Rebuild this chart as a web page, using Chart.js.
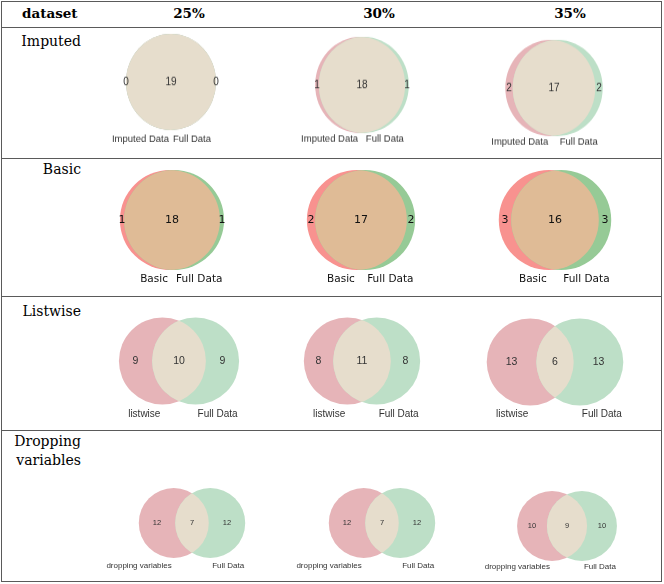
<!DOCTYPE html>
<html>
<head>
<meta charset="utf-8">
<script src="https://cdn.jsdelivr.net/npm/chart.js@4.4.1/dist/chart.umd.min.js"></script>
<style>
  body { margin: 0; background: #fff; }
  #page { position: relative; width: 664px; height: 584px; overflow: hidden; font-family: "DejaVu Serif", serif; color: #000; }
  .hl { position: absolute; left: 1px; width: 661px; height: 1px; background: #5a5a5a; }
  .vl { position: absolute; top: 1px; width: 1px; height: 581px; background: #5a5a5a; }
  .hd { position: absolute; font-weight: bold; font-size: 13.5px; line-height: 14px; white-space: nowrap; }
  .rl { position: absolute; right: 583px; text-align: right; font-size: 14px; line-height: 18.5px; white-space: nowrap; }
  canvas { position: absolute; }
</style>
</head>
<body>
<div id="page"></div>
<script>
// table text
const headerTitle = 'dataset';
const pctLabels = ['25%', '30%', '35%'];
const rowNames = ['Imputed', 'Basic', 'Listwise', 'Dropping<br>variables'];
const firstSetNames = ['Imputed Data', 'Basic', 'listwise', 'dropping variables'];
const secondSetName = 'Full Data';

// venn counts: [row][column]
const leftOnly  = [[0, 1, 2], [1, 2, 3], [9, 8, 13], [12, 12, 10]];
const shared    = [[19, 18, 17], [18, 17, 16], [10, 11, 6], [7, 7, 9]];
const rightOnly = [[0, 1, 2], [1, 2, 3], [9, 8, 13], [12, 12, 10]];

// layout of the picture (page pixels)
const colBox = [[88, 282], [282, 472], [472, 660]];
const rowBox = [[28, 158], [159, 296], [297, 430], [431, 581]];
const centers = [
    [[171, 82], [362, 85], [554, 88]],
    [[172, 220], [361, 220], [555, 220]],
    [[179, 361], [362, 361], [555, 362]],
    [[192, 523], [382, 523], [567, 526]]
];
const leftRadiusPx = [45, 50, 43.5, 35];
const rowStretch = [1.07, 1, 1, 1];   // first row of the source image is a bit taller than wide
const setLabelY = [[139, 139, 142], [279, 279, 279], [414, 414, 414], [566, 566, 567]];
const numSize = [10, 11, 10.5, 7.5];
const labSize = [9.5, 10.5, 10, 8];

const styles = {
    pastel: { a: '#e6b4b8', b: '#bddfc7', ab: '#e6ddcc', text: '#333', font: '"Liberation Sans", Arial, sans-serif' },
    strong: { a: '#f8928f', b: '#96ca96', ab: '#dfbb96', text: '#111', font: '"DejaVu Sans", sans-serif' }
};
const rowStyle = ['pastel', 'strong', 'pastel', 'pastel'];

const page = document.getElementById('page');

function addDiv(cls, css, html) {
    const d = document.createElement('div');
    d.className = cls;
    d.style.cssText = css;
    d.innerHTML = html;
    page.appendChild(d);
}

// grid
[1, 27, 158, 296, 430, 581].forEach(y => addDiv('hl', `top:${y}px`, ''));
[1, 661].forEach(x => addDiv('vl', `left:${x}px`, ''));

addDiv('hd', 'left:22px;top:6px', headerTitle);
const headCx = [189, 379, 570];
pctLabels.forEach((t, i) => addDiv('hd', `left:${headCx[i] - 40}px;width:80px;text-align:center;top:6px`, t));
const rowTop = [32, 160, 302, 432];
rowNames.forEach((t, i) => addDiv('rl', `top:${rowTop[i]}px`, t));

// area of the lens between two circles
function lensArea(r1, r2, d) {
    if (d >= r1 + r2) return 0;
    if (d <= Math.abs(r1 - r2)) return Math.PI * Math.min(r1, r2) ** 2;
    const a = r1 * r1 * Math.acos((d * d + r1 * r1 - r2 * r2) / (2 * d * r1));
    const b = r2 * r2 * Math.acos((d * d + r2 * r2 - r1 * r1) / (2 * d * r2));
    const c = 0.5 * Math.sqrt((-d + r1 + r2) * (d + r1 - r2) * (d - r1 + r2) * (d + r1 + r2));
    return a + b - c;
}

function centreDistance(r1, r2, area) {
    let lo = Math.abs(r1 - r2), hi = r1 + r2;
    for (let k = 0; k < 60; k++) {
        const mid = (lo + hi) / 2;
        if (lensArea(r1, r2, mid) > area) lo = mid; else hi = mid;
    }
    return (lo + hi) / 2;
}

function pxRadius(chart, r) {
    const s = chart.scales.x;
    const v = Math.abs(s.getPixelForValue(r) - s.getPixelForValue(0));
    return isFinite(v) ? v : 0;
}

const vennPlugin = {
    id: 'venn',
    afterDatasetsDraw(chart, args, opts) {
        const ctx = chart.ctx;
        const A = chart.getDatasetMeta(0).data[0];
        const B = chart.getDatasetMeta(1).data[0];
        const ra = A.options.radius, rb = B.options.radius;

        // intersection region
        ctx.save();
        ctx.beginPath();
        ctx.arc(A.x, A.y, ra, 0, Math.PI * 2);
        ctx.clip();
        ctx.beginPath();
        ctx.arc(B.x, B.y, rb, 0, Math.PI * 2);
        ctx.fillStyle = opts.overlapColor;
        ctx.fill();
        ctx.restore();

        // region counts
        const aL = A.x - ra, aR = A.x + ra, bL = B.x - rb, bR = B.x + rb;
        ctx.save();
        ctx.fillStyle = opts.textColor;
        ctx.textAlign = 'center';
        ctx.textBaseline = 'middle';
        ctx.font = `${opts.numSize}px ${opts.family}`;
        ctx.fillText(String(opts.counts[0]), (aL + bL) / 2, A.y);
        ctx.fillText(String(opts.counts[1]), (bL + aR) / 2, A.y);
        ctx.fillText(String(opts.counts[2]), (aR + bR) / 2, A.y);

        // set names
        ctx.font = `${opts.labSize}px ${opts.family}`;
        ctx.textAlign = 'right';
        ctx.fillText(opts.names[0], A.x - 2, opts.labelY);
        ctx.textAlign = 'left';
        ctx.fillText(opts.names[1], B.x + 2, opts.labelY);
        ctx.restore();
    }
};

for (let r = 0; r < 4; r++) {
    for (let c = 0; c < 3; c++) {
        const st = styles[rowStyle[r]];
        const left = colBox[c][0], top = rowBox[r][0];
        const W = colBox[c][1] - colBox[c][0], H = rowBox[r][1] - rowBox[r][0];
        const k = rowStretch[r];

        const sizeA = leftOnly[r][c] + shared[r][c];
        const sizeB = rightOnly[r][c] + shared[r][c];
        const rA = Math.sqrt(sizeA / Math.PI), rB = Math.sqrt(sizeB / Math.PI);
        const d = centreDistance(rA, rB, shared[r][c]);

        const unit = leftRadiusPx[r] / rA; // pixels per data unit
        const cx = centers[r][c][0] - left, cy = centers[r][c][1] - top;

        const cv = document.createElement('canvas');
        cv.width = W;
        cv.height = H;
        cv.style.left = left + 'px';
        cv.style.top = top + 'px';
        if (k !== 1) {
            cv.style.transformOrigin = `0 ${cy}px`;
            cv.style.transform = `scaleY(${k})`;
        }
        page.appendChild(cv);

        new Chart(cv, {
            type: 'scatter',
            data: {
                datasets: [
                    { data: [{ x: -d / 2, y: 0 }], pointBackgroundColor: st.a, pointBorderWidth: 0,
                      pointRadius: ctx => pxRadius(ctx.chart, rA), pointHoverRadius: ctx => pxRadius(ctx.chart, rA), order: 2 },
                    { data: [{ x: d / 2, y: 0 }], pointBackgroundColor: st.b, pointBorderWidth: 0,
                      pointRadius: ctx => pxRadius(ctx.chart, rB), pointHoverRadius: ctx => pxRadius(ctx.chart, rB), order: 1 }
                ]
            },
            options: {
                responsive: false,
                animation: false,
                devicePixelRatio: 1,
                events: [],
                layout: { padding: 0, autoPadding: false },
                scales: {
                    x: { type: 'linear', display: false, min: -cx / unit, max: (W - cx) / unit },
                    y: { type: 'linear', display: false, min: -(H - cy) / unit, max: cy / unit }
                },
                plugins: {
                    legend: { display: false },
                    tooltip: { enabled: false },
                    venn: {
                        overlapColor: st.ab,
                        textColor: st.text,
                        family: st.font,
                        numSize: numSize[r],
                        labSize: labSize[r],
                        labelY: cy + (setLabelY[r][c] - top - cy) / k,
                        counts: [leftOnly[r][c], shared[r][c], rightOnly[r][c]],
                        names: [firstSetNames[r], secondSetName]
                    }
                }
            },
            plugins: [vennPlugin]
        });
    }
}
</script>
</body>
</html>
